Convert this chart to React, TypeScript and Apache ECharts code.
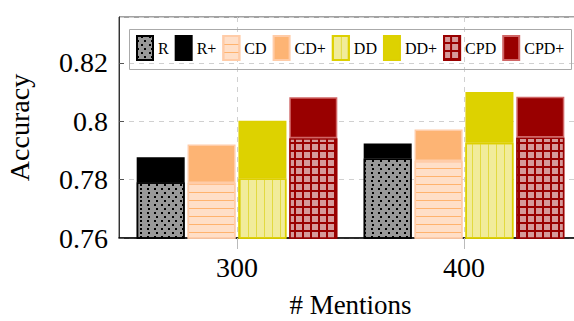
import React, { useEffect, useRef } from 'react';
import * as echarts from 'echarts';

const mentions = [300, 400];
const legendNames = ['R', 'R+', 'CD', 'CD+', 'DD', 'DD+', 'CPD', 'CPD+'];
const yTicks = [0.76, 0.78, 0.8, 0.82];
const yMax = 0.8357;

const rBase = [0.7791, 0.7872];
const rPlus = [0.7877, 0.7924];
const cdBase = [0.7788, 0.7864];
const cdPlus = [0.792, 0.7972];
const ddBase = [0.7804, 0.7926];
const ddPlus = [0.8002, 0.81];
const cpdBase = [0.7942, 0.7944];
const cpdPlus = [0.8082, 0.8084];

const FONT = 'Liberation Serif, DejaVu Serif, serif';

function bar(name: string, stack: string, values: number[], color: string, borderColor: string, decal?: any) {
  return {
    type: 'bar',
    name,
    stack,
    xAxisIndex: 1,
    yAxisIndex: 1,
    barWidth: 48,
    barGap: '6%',
    data: values,
    itemStyle: { color, borderColor, borderWidth: 1.5, decal },
    emphasis: { disabled: true },
  };
}

function diff(top: number[], base: number[]) {
  return top.map((v, i) => +(v - base[i]).toFixed(5));
}

export default function App() {
  const ref = useRef<HTMLDivElement>(null);
  useEffect(() => {
    const chart = echarts.init(ref.current!, null, { renderer: 'svg' });
    const option: any = {
      animation: false,
      grid: [
        {
          left: 119,
          top: 17,
          width: 463,
          height: 221,
          show: true,
          borderColor: '#444',
          borderWidth: 1,
          backgroundColor: 'transparent',
          containLabel: false,
          outerBoundsMode: 'none',
        },
        { left: 123.5, top: 17, width: 454, height: 221, containLabel: false, outerBoundsMode: 'none' },
      ],
      graphic: [
        {
          type: 'rect',
          shape: { x: 129.5, y: 29.5, width: 442, height: 40 },
          style: { fill: 'none', stroke: '#aaa', lineWidth: 1 },
          z: 10,
        },
      ],
      legend: {
        data: legendNames,
        left: 136,
        top: 35,
        width: 436,
        orient: 'horizontal',
        icon: 'rect',
        itemWidth: 16,
        itemHeight: 24,
        itemGap: 6,
        padding: 0,
        textStyle: { fontFamily: FONT, fontSize: 16, color: '#000' },
        selectedMode: false,
      },
      xAxis: [
        {
          type: 'value',
          gridIndex: 0,
          min: 248,
          max: 452,
          name: '# Mentions',
          nameLocation: 'middle',
          nameGap: 57,
          nameTextStyle: { fontFamily: FONT, fontSize: 27, lineHeight: 20, color: '#000' },
          axisLine: { show: true, onZero: false, lineStyle: { color: '#000', width: 1.5 } },
          axisTick: { show: true, customValues: mentions, length: 11, lineStyle: { color: '#bbb' } },
          axisLabel: { customValues: mentions, fontFamily: FONT, fontSize: 28, color: '#000', margin: 15 },
          splitLine: { show: true, customValues: mentions, lineStyle: { color: '#d0d0d0', type: [5, 5] } },
        },
        {
          type: 'category',
          gridIndex: 1,
          data: mentions.map(String),
          boundaryGap: true,
          show: false,
        },
      ],
      yAxis: [
        {
          type: 'value',
          gridIndex: 0,
          min: yTicks[0],
          max: yMax,
          interval: 0.02,
          name: 'Accuracy',
          nameLocation: 'middle',
          nameGap: 86,
          nameTextStyle: { fontFamily: FONT, fontSize: 28, color: '#000' },
          axisLine: { show: true, lineStyle: { color: '#333', width: 1 } },
          axisTick: { show: true, inside: true, length: 5, lineStyle: { color: '#555' } },
          axisLabel: { showMaxLabel: false, fontFamily: FONT, fontSize: 28, color: '#000', margin: 11 },
          splitLine: { show: true, lineStyle: { color: '#d0d0d0', type: [5, 5] } },
        },
        {
          type: 'value',
          gridIndex: 1,
          min: yTicks[0],
          max: yMax,
          show: false,
          splitLine: { show: false },
        },
      ],
      series: [
        bar('R', 'R', rBase, '#999999', '#000', {
          symbol: 'rect', color: '#000', dashArrayX: [[2, 5], [0, 3.5, 2, 1.5]], dashArrayY: [2, 2], symbolSize: 1,
        }),
        bar('R+', 'R', diff(rPlus, rBase), '#000000', '#000'),
        bar('CD', 'CD', cdBase, '#FFDFC8', '#FFCCA8', {
          symbol: 'rect', color: '#FFB36E', dashArrayX: [10, 0], dashArrayY: [1, 7], symbolSize: 1,
        }),
        bar('CD+', 'CD', diff(cdPlus, cdBase), '#FDB474', '#FFCCA8'),
        bar('DD', 'DD', ddBase, '#F1EC9A', '#DDD000', {
          symbol: 'rect', color: '#E2DA40', dashArrayX: [1, 7], dashArrayY: [10, 0], symbolSize: 1,
        }),
        bar('DD+', 'DD', diff(ddPlus, ddBase), '#DDD200', '#DDD000'),
        bar('CPD', 'CPD', cpdBase, '#990000', '#990000', {
          symbol: 'rect', color: '#D69A9A', dashArrayX: [6, 2], dashArrayY: [6, 2], symbolSize: 1,
        }),
        bar('CPD+', 'CPD', diff(cpdPlus, cpdBase), '#990000', '#D06666'),
      ],
    };
    chart.setOption(option);
    return () => chart.dispose();
  }, []);
  return <div ref={ref} style={{ position: 'absolute', left: 0, top: 0, width: 574, height: 321 }} />;
}
